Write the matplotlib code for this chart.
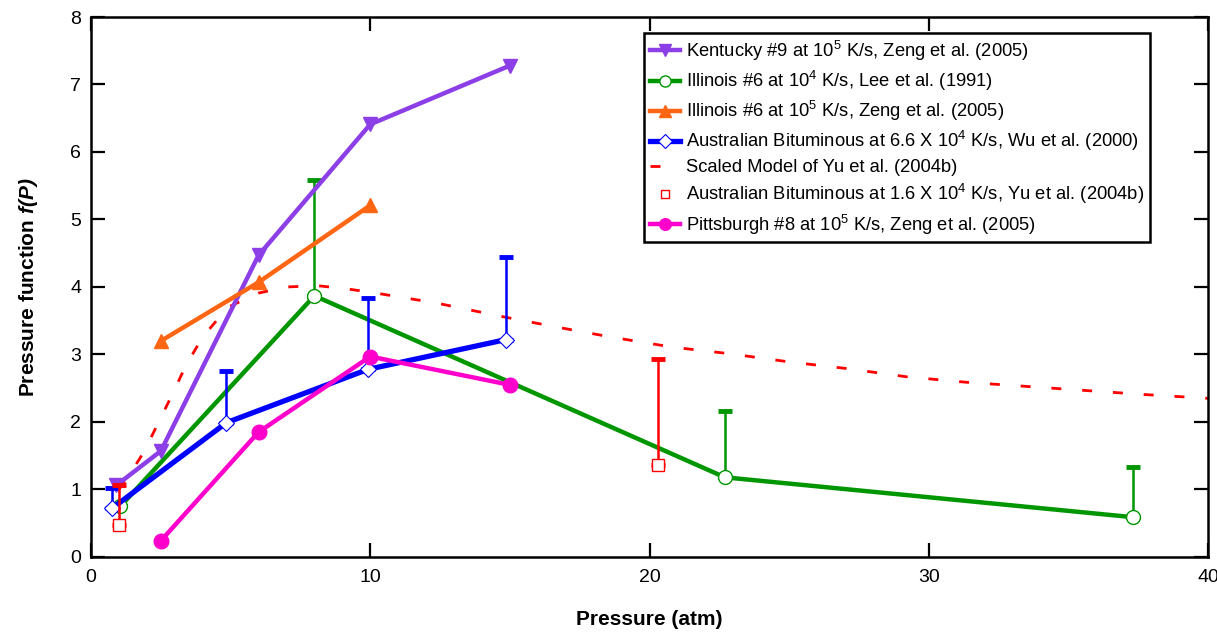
import matplotlib
matplotlib.use("Agg")
import matplotlib.pyplot as plt

plt.rcParams['font.family'] = ['Liberation Sans', 'DejaVu Sans']
plt.rcParams['mathtext.fontset'] = 'custom'
plt.rcParams['mathtext.rm'] = 'Liberation Sans'
plt.rcParams['mathtext.it'] = 'Liberation Sans:italic'
plt.rcParams['mathtext.bf'] = 'Liberation Sans:bold'
plt.rcParams['mathtext.bfit'] = 'Liberation Sans:italic:bold'

# Kentucky #9, 10^5 K/s (Zeng et al. 2005)
ky_p = [0.9, 2.5, 6.0, 10.0, 15.0]
ky_f = [1.06, 1.57, 4.47, 6.41, 7.28]

# Illinois #6, 10^4 K/s (Lee et al. 1991)
il_lee_p = [1.05, 8.0, 22.7, 37.3]
il_lee_f = [0.75, 3.87, 1.18, 0.59]
il_lee_up = [0.0, 1.72, 0.98, 0.74]

# Illinois #6, 10^5 K/s (Zeng et al. 2005)
il_zeng_p = [2.5, 6.0, 10.0]
il_zeng_f = [3.2, 4.07, 5.21]

# Australian bituminous, 6.6e4 K/s (Wu et al. 2000)
au_wu_p = [0.75, 4.85, 9.92, 14.85]
au_wu_f = [0.72, 1.99, 2.78, 3.22]
au_wu_up = [0.3, 0.76, 1.05, 1.22]

# Scaled model of Yu et al. (2004b)
model_p = [1.0, 1.3, 1.9, 2.4, 2.9, 3.4, 4.0, 4.9, 6.0, 7.0, 8.1, 9.2, 10.2,
           12.4, 14.5, 16.5, 18.6, 20.8, 22.9, 25.0, 27.1, 29.2, 31.3, 33.4,
           35.5, 37.6, 40.0]
model_f = [1.0, 1.17, 1.56, 1.98, 2.4, 2.84, 3.26, 3.7, 3.91, 4.0, 4.02, 3.97,
           3.91, 3.76, 3.58, 3.42, 3.26, 3.11, 3.01, 2.89, 2.79, 2.67, 2.59,
           2.53, 2.47, 2.41, 2.35]

# Australian bituminous, 1.6e4 K/s (Yu et al. 2004b)
au_yu_p = [1.0, 20.3]
au_yu_f = [0.47, 1.37]
au_yu_up = [0.6, 1.56]

# Pittsburgh #8, 10^5 K/s (Zeng et al. 2005)
pit_p = [2.5, 6.0, 10.0, 15.0]
pit_f = [0.24, 1.85, 2.97, 2.55]

c_purple = '#8C3FE6'
c_green = '#009600'
c_orange = '#FF6614'
c_blue = '#0000FF'
c_red = '#FF0000'
c_magenta = '#FF00CC'

fig = plt.figure(figsize=(12.17, 6.32), dpi=100)
ax = fig.add_axes([0.0748, 0.1187, 0.9178, 0.8544])

lw = 3.2
cap = dict(capsize=5, capthick=3.5, elinewidth=1.8)

ax.plot(model_p, model_f, color=c_red, lw=2.0, dashes=(3.6, 7.5), zorder=2,
        label='Scaled Model of Yu et al. (2004b)')

ax.errorbar(il_lee_p, il_lee_f, yerr=[[0] * len(il_lee_up), il_lee_up],
            fmt='none', ecolor=c_green, zorder=3, **cap)
ax.plot(il_lee_p, il_lee_f, color=c_green, lw=lw, marker='o', ms=10,
        mfc='white', mec=c_green, mew=1.0, zorder=4,
        label='Illinois #6 at 10$^4$ K/s, Lee et al. (1991)')

ax.plot(ky_p, ky_f, color=c_purple, lw=lw, marker='v', ms=10,
        mfc=c_purple, mec=c_purple, zorder=5,
        label='Kentucky #9 at 10$^5$ K/s, Zeng et al. (2005)')

ax.plot(il_zeng_p, il_zeng_f, color=c_orange, lw=lw, marker='^', ms=10,
        mfc=c_orange, mec=c_orange, zorder=6,
        label='Illinois #6 at 10$^5$ K/s, Zeng et al. (2005)')

ax.errorbar(au_wu_p, au_wu_f, yerr=[[0] * len(au_wu_up), au_wu_up],
            fmt='none', ecolor=c_blue, zorder=6.5, **cap)
ax.plot(au_wu_p, au_wu_f, color=c_blue, lw=lw + 0.6, marker='D', ms=8.5,
        mfc='white', mec=c_blue, mew=0.8, zorder=7,
        label='Australian Bituminous at 6.6 X 10$^4$ K/s, Wu et al. (2000)')

ax.plot(pit_p, pit_f, color=c_magenta, lw=lw, marker='o', ms=10.5,
        mfc=c_magenta, mec=c_magenta, zorder=8,
        label='Pittsburgh #8 at 10$^5$ K/s, Zeng et al. (2005)')

ax.errorbar(au_yu_p, au_yu_f, yerr=[[0] * len(au_yu_up), au_yu_up],
            fmt='none', ecolor=c_red, zorder=8.5, **cap)
ax.plot(au_yu_p, au_yu_f, ls='none', marker='s', ms=8, mfc='white',
        mec=c_red, mew=1.0, zorder=9,
        label='Australian Bituminous at 1.6 X 10$^4$ K/s, Yu et al. (2004b)')

ax.set_xlim(0, 40)
ax.set_ylim(0, 8)
ax.set_xticks([0, 10, 20, 30, 40])
ax.set_yticks(range(0, 9))
ax.tick_params(direction='in', length=10, width=1.6, labelsize=14,
               top=True, right=True)
ax.tick_params(axis='x', pad=9)
ax.tick_params(axis='y', pad=7)
for s in ax.spines.values():
    s.set_linewidth(1.8)

ax.set_xlabel('Pressure (atm)', fontsize=15, fontweight='bold', labelpad=17)
ax.set_ylabel(r'Pressure function $\mathbfit{f(P)}$', fontsize=15,
              fontweight='bold', labelpad=22)

handles, labels = ax.get_legend_handles_labels()
order = [
    'Kentucky #9 at 10$^5$ K/s, Zeng et al. (2005)',
    'Illinois #6 at 10$^4$ K/s, Lee et al. (1991)',
    'Illinois #6 at 10$^5$ K/s, Zeng et al. (2005)',
    'Australian Bituminous at 6.6 X 10$^4$ K/s, Wu et al. (2000)',
    'Scaled Model of Yu et al. (2004b)',
    'Australian Bituminous at 1.6 X 10$^4$ K/s, Yu et al. (2004b)',
    'Pittsburgh #8 at 10$^5$ K/s, Zeng et al. (2005)',
]
hmap = dict(zip(labels, handles))
leg = ax.legend([hmap[l] for l in order], order, loc='upper right',
                bbox_to_anchor=(0.948, 0.970), borderaxespad=0,
                fontsize=13.2, fancybox=False, framealpha=1,
                edgecolor='black', handlelength=1.65, handletextpad=0.35,
                labelspacing=0.33, borderpad=0.3, markerscale=0.8)
leg.get_frame().set_linewidth(1.8)

fig.savefig('out.png', dpi=100)
